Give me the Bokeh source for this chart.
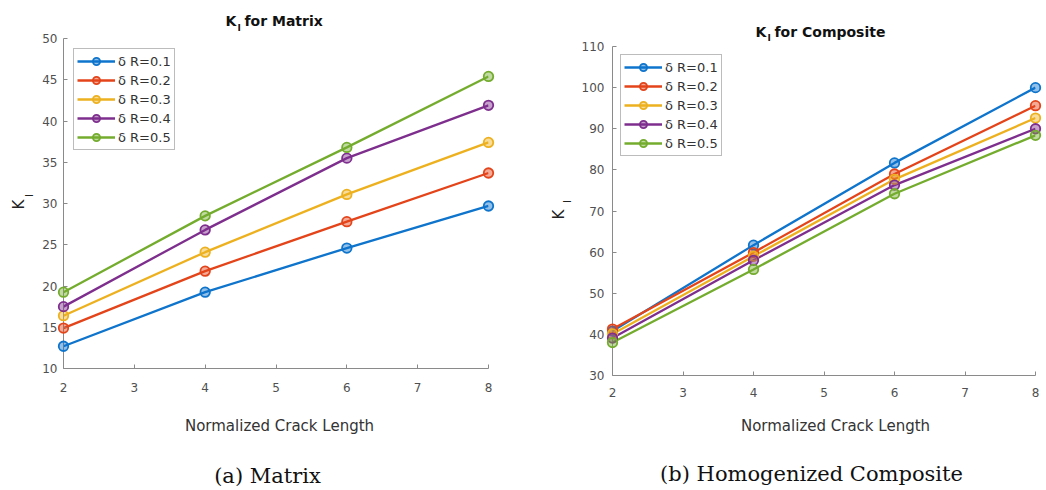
from bokeh.plotting import figure
from bokeh.models import Range1d, FixedTicker
from bokeh.layouts import row, column
from bokeh.core.properties import value
from bokeh.embed import file_html
from bokeh.resources import INLINE

# ---------------- data ----------------
crack_length = [2, 4, 6, 8]
series_labels = ["δ R=0.1", "δ R=0.2", "δ R=0.3", "δ R=0.4", "δ R=0.5"]

matrix_r01 = [12.7, 19.25, 24.6, 29.7]
matrix_r02 = [14.9, 21.8, 27.8, 33.7]
matrix_r03 = [16.4, 24.1, 31.1, 37.4]
matrix_r04 = [17.5, 26.8, 35.5, 41.9]
matrix_r05 = [19.25, 28.5, 36.8, 45.4]

composite_r01 = [40.8, 61.7, 81.7, 100.0]
composite_r02 = [41.3, 59.9, 79.0, 95.6]
composite_r03 = [40.1, 59.0, 77.7, 92.6]
composite_r04 = [39.1, 58.0, 76.3, 90.0]
composite_r05 = [38.0, 55.8, 74.2, 88.4]

x_ticks = [2, 3, 4, 5, 6, 7, 8]
matrix_y_ticks = [10, 15, 20, 25, 30, 35, 40, 45, 50]
composite_y_ticks = [30, 40, 50, 60, 70, 80, 90, 100, 110]

colors = ["#0E74CC", "#E4441A", "#EDB120", "#7E2F8E", "#74AC2E"]

SANS = "DejaVu Sans"
SERIF = "DejaVu Serif"


class Panel:
    def __init__(self, series, yr, yticks, bl, br, bt, fw, fh, bb, xstand, ystand, lmargin):
        self.bl, self.bt, self.fw, self.fh = bl, bt, fw, fh
        self.yr = yr
        p = figure(frame_width=fw, frame_height=fh,
                   min_border_left=bl, min_border_right=br,
                   min_border_top=bt, min_border_bottom=bb,
                   x_range=Range1d(2, 8), y_range=Range1d(*yr),
                   output_backend="svg", toolbar_location=None,
                   background_fill_color="white", border_fill_color="white")
        p.outline_line_color = None
        p.xgrid.visible = False
        p.ygrid.visible = False
        p.xaxis.ticker = FixedTicker(ticks=x_ticks)
        p.yaxis.ticker = FixedTicker(ticks=yticks)
        for ax in (p.xaxis, p.yaxis):
            ax.major_tick_in = 4
            ax.major_tick_out = 0
            ax.minor_tick_line_color = None
            ax.axis_line_color = "#8a8a8a"
            ax.major_tick_line_color = "#8a8a8a"
            ax.major_label_text_font = SANS
            ax.major_label_text_font_size = "12px"
            ax.major_label_text_color = "#505050"
        p.xaxis.major_label_standoff = xstand
        p.yaxis.major_label_standoff = ystand

        for ys, c, lab in zip(series, colors, series_labels):
            p.line(crack_length, ys, line_color=c, line_width=2.3, legend_label=lab)
            p.scatter(crack_length, ys, marker="circle", size=9.5, line_color=c,
                      line_width=1.8, fill_color=c, fill_alpha=0.45,
                      legend_label=lab, level="overlay")

        lg = p.legend[0]
        lg.location = "top_left"
        lg.margin = lmargin
        lg.padding = 3
        lg.spacing = 1
        lg.glyph_width = 38
        lg.glyph_height = 18
        lg.label_height = 18
        lg.label_standoff = 3
        lg.label_text_font = SANS
        lg.label_text_font_size = "13px"
        lg.label_text_color = "#333333"
        lg.border_line_color = "#7a7a7a"
        lg.border_line_width = 1
        lg.background_fill_color = "white"
        lg.background_fill_alpha = 1.0
        self.p = p

    def text(self, s, px, py, size, font=SANS, style="normal", align="left",
             baseline="alphabetic", angle=0.0, color="#111111"):
        # px, py: canvas pixel position of the text anchor (from top-left of this figure)
        x = 2 + (px - self.bl) * 6.0 / self.fw
        y0, y1 = self.yr
        y = y0 + (self.bt + self.fh - py) * (y1 - y0) / self.fh
        self.p.text(x=[x], y=[y], text=[s], text_font=value(font),
                    text_font_size=value(size), text_font_style=style,
                    text_align=align, text_baseline=baseline, angle=angle,
                    text_color=color, level="overlay")


# ---------------- left: matrix ----------------
L = Panel([matrix_r01, matrix_r02, matrix_r03, matrix_r04, matrix_r05],
          (10, 50), matrix_y_ticks, 63, 32, 38, 425, 330, 118, 14, 6, 10)
L.text("K", 225, 20, "14px", style="bold")
L.text("I", 237, 27, "9px", style="bold")
L.text("for Matrix", 244, 20, "14px", style="bold")
L.text("K", 18.5, 204, "15px", align="center", baseline="middle", angle=1.5708, color="#222222")
L.text("I", 28.5, 195, "10px", align="center", baseline="middle", angle=1.5708, color="#222222")
L.text("Normalized Crack Length", 279, 425, "15px", align="center", color="#333333")
L.text("(a) Matrix", 267, 475, "21px", font=SERIF, align="center", color="#111111")

# ---------------- right: composite ----------------
OX = 520  # left edge of the right figure in page pixels
R = Panel([composite_r01, composite_r02, composite_r03, composite_r04, composite_r05],
          (30, 110), composite_y_ticks, 92, 8, 46, 423, 329, 111, 12, 8, 8)
R.text("K", 755 - OX, 31, "14px", style="bold")
R.text("I", 767 - OX, 37, "9px", style="bold")
R.text("for Composite", 774 - OX, 31, "14px", style="bold")
R.text("K", 558 - OX, 214, "15px", align="center", baseline="middle", angle=1.5708, color="#222222")
R.text("I", 567 - OX, 201, "10px", align="center", baseline="middle", angle=1.5708, color="#222222")
R.text("Normalized Crack Length", 835 - OX, 425, "15px", align="center", color="#333333")
R.text("(b) Homogenized Composite", 811 - OX, 473, "21px", font=SERIF, align="center", color="#111111")

layout = row(column(L.p), column(R.p))
open("out.html", "w").write(file_html(layout, INLINE))
